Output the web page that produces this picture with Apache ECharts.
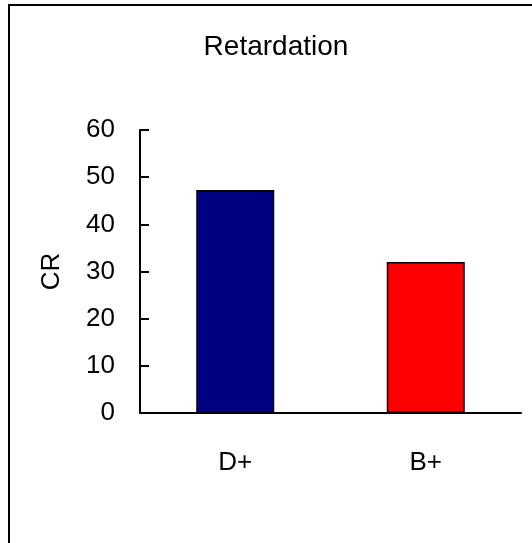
<!DOCTYPE html>
<html>
<head>
<meta charset="utf-8">
<script src="https://cdn.jsdelivr.net/npm/echarts@6/dist/echarts.min.js"></script>
<style>
  html, body { margin: 0; padding: 0; background: #fff; }
  #main { width: 532px; height: 543px; }
</style>
</head>
<body>
<div id="main"></div>
<script>
// data
var categories = ['D+', 'B+'];
var values = [47.3, 32.0];
var barColors = ['#000080', '#ff0000'];
var yTicks = [0, 10, 20, 30, 40, 50, 60];

var chart = echarts.init(document.getElementById('main'));
var font = '"Liberation Sans", Arial, sans-serif';

var option = {
  animation: false,
  title: {
    text: 'Retardation',
    left: 271,
    top: 28,
    textAlign: 'center',
    textStyle: { fontFamily: font, fontSize: 28, fontWeight: 'normal', color: '#000' }
  },
  graphic: [{
    type: 'rect',
    shape: { x: 9, y: 5, width: 600, height: 600 },
    style: { fill: 'none', stroke: '#000', lineWidth: 2 },
    silent: true
  }],
  grid: { left: 140, right: 11, top: 130, bottom: 130 },
  xAxis: {
    type: 'category',
    data: categories,
    axisLine: { lineStyle: { color: '#000', width: 2 } },
    axisTick: { show: false },
    axisLabel: { color: '#000', fontFamily: font, fontSize: 26, margin: 37 }
  },
  yAxis: {
    type: 'value',
    min: yTicks[0],
    max: yTicks[yTicks.length - 1],
    interval: 10,
    name: 'CR',
    nameLocation: 'middle',
    nameGap: 75,
    nameTextStyle: { color: '#000', fontFamily: font, fontSize: 26 },
    axisLine: { show: true, lineStyle: { color: '#000', width: 2 } },
    axisTick: { show: true, inside: true, length: 9, lineStyle: { color: '#000', width: 2 } },
    splitLine: { show: false },
    axisLabel: { color: '#000', fontFamily: font, fontSize: 26, margin: 25 }
  },
  series: [{
    type: 'bar',
    barWidth: 78,
    data: values.map(function (v, i) {
      return { value: v, itemStyle: { color: barColors[i] } };
    }),
    itemStyle: { borderColor: '#000', borderWidth: 1.5 }
  }]
};

chart.setOption(option);
</script>
</body>
</html>
